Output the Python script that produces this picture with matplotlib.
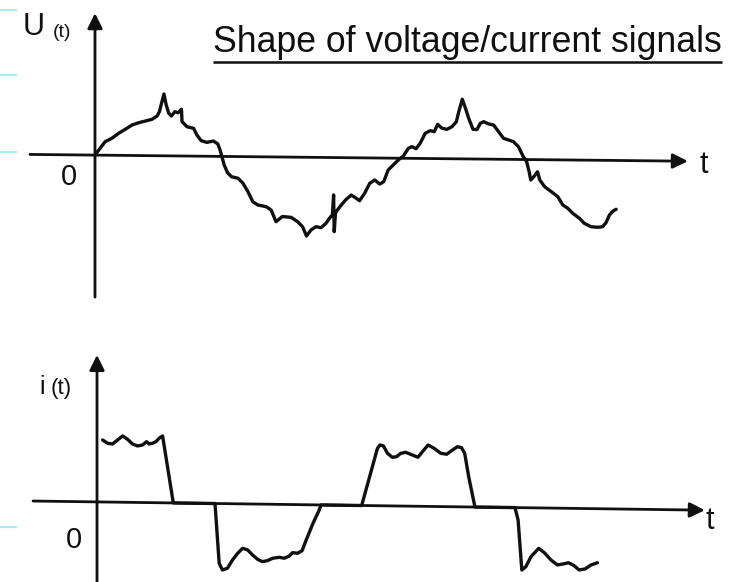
import numpy as np
import matplotlib
matplotlib.use("Agg")
import matplotlib.pyplot as plt
from matplotlib.transforms import Affine2D
from matplotlib import font_manager

# ---------------- data ----------------
# Voltage u(t): time offset from origin and value above the t axis (arbitrary units)
u_time = [0, 5, 10, 16.7, 23.3, 30, 36.7, 43.3, 50, 56.7, 61.7, 64, 66, 68.3, 70.7, 73.3,
          76, 79.3, 82.7, 86, 86.7, 91.7, 98.3, 101.7, 106, 111.7, 118.3, 122.7, 125, 126.7,
          129.3, 132.7, 136.7, 143.3, 148.3, 153.3, 158.3, 163.3, 171.7, 176.7, 181.7, 188,
          196.7, 203.3, 208.3, 212.3, 216.7, 221.7, 226.7, 231.7, 235, 238, 239, 240, 241,
          241.7, 246.7, 251.7, 256.7, 261.7, 265, 270, 275, 280, 285, 289, 293.3, 298.3,
          303.3, 308.3, 313.3, 316.7, 321, 325, 330, 335, 339, 342.3, 346.7, 351.7, 356.7,
          361, 363.3, 366.7, 370, 373.3, 377.7, 381.7, 385, 388.3, 393.3, 398.3, 403.3,
          408.3, 413.3, 418.3, 423.3, 428.3, 431.7, 434.3, 436, 439, 442.7, 445, 450, 456.7,
          463.3, 468.3, 473.3, 478.3, 485, 490, 496.7, 503.3, 508.3, 511.7, 515, 519, 521.7]
u_value = [0, 6.9, 13.5, 17.0, 22.0, 26.1, 30.5, 32.8, 34.6, 36.4, 39.7, 44.1, 52.5, 61.8,
           50.8, 42.6, 39.9, 44.2, 43.2, 46.7, 34.3, 29.3, 27.8, 21.1, 15.5, 13.9, 15.3, 12.4,
           6.4, 0.4, -8.6, -16.2, -20.2, -21.7, -26.7, -35.0, -45.0, -48.2, -49.8, -53.1,
           -64.7, -59.5, -60.2, -64.5, -69.5, -78.7, -72.7, -69.3, -70.3, -65.8, -60.8, -57.4,
           -37.4, -74.1, -56.4, -54.1, -47.4, -41.6, -37.3, -40.5, -42.9, -35.4, -25.4, -22.0,
           -26.0, -23.6, -11.9, -6.8, -1.8, 2.3, 10.0, 11.7, 9.7, 15.1, 25.2, 27.9, 26.9, 34.3,
           30.4, 29.4, 32.1, 37.1, 47.1, 59.6, 50.6, 40.6, 29.7, 29.5, 35.8, 37.4, 35.2, 34.2,
           27.6, 21.0, 19.4, 17.7, 12.8, 2.8, -2.2, -12.1, -20.4, -17.1, -12.1, -20.3, -27.0,
           -31.9, -36.9, -45.1, -48.3, -53.3, -58.2, -63.2, -66.5, -67.0, -66.4, -62.3, -54.6,
           -50.3, -48.8]

# Current i(t)
i_time = [4.7, 9.7, 14.7, 19.7, 24.7, 29.7, 34.7, 39.7, 44.7, 48.7, 51.3, 54.7, 58, 61.3,
          64.7, 76.3, 118, 123, 126.3, 131.3, 136.3, 141.3, 146.3, 151.3, 156.3, 161.3, 166.3,
          171.3, 176.3, 183, 188, 193, 196.3, 201.3, 205.7, 209.7, 216.3, 222.3, 224, 264.7,
          279.7, 282.3, 285.7, 289.7, 294.7, 299, 303, 308, 314.7, 320.3, 324.7, 330.3, 336.3,
          343, 349, 354.7, 359.7, 363.7, 367, 371.3, 378, 418, 421.3, 425.7, 429.7, 434.7,
          442.3, 448, 454.7, 461.3, 467, 472.3, 478, 483, 489, 494.7, 501.3]
i_value = [62.0, 58.8, 58.1, 62.2, 66.3, 63.0, 58.4, 56.5, 57.5, 60.9, 58.6, 59.4, 61.0, 64.5,
           66.8, 0, 0, -59.7, -66.4, -64.6, -56.2, -49.5, -44.4, -46.0, -51.0, -55.2, -57.5,
           -56.4, -54.0, -52.9, -53.8, -51.5, -48.1, -48.6, -46.0, -35.2, -18.4, -5.1, 0, 0,
           57.4, 60.8, 59.8, 52.6, 48.6, 49.3, 52.7, 53.8, 51.2, 49.0, 54.6, 61.4, 58.2, 53.3,
           52.4, 56.7, 60.1, 59.2, 53.6, 30.3, 0, 0, -12.4, -62.3, -58.9, -48.9, -40.4, -44.7,
           -51.9, -56.8, -55.7, -54.4, -57.3, -61.5, -60.4, -56.4, -54.0]

title_text = "Shape of voltage/current signals"
u_label, i_label, t_label, zero_label = "U", "i", "t", "0"
sub_label = "(t)"

# ---------------- layout / style ----------------
W, H = 731, 582
INK = "#101010"
fig = plt.figure(figsize=(W / 100, H / 100), dpi=100)
fig.patch.set_facecolor("white")

def pick_font():
    for fam in ["Liberation Sans Narrow", "Liberation Sans", "DejaVu Sans"]:
        try:
            font_manager.findfont(font_manager.FontProperties(family=fam), fallback_to_default=False)
            return fam
        except Exception:
            pass
    return "DejaVu Sans"
FONT = pick_font()


def panel(origin, tilt_deg):
    ax = fig.add_axes([0, 0, 1, 1])
    ax.set_xlim(-origin[0], W - origin[0])
    ax.set_ylim(-(H - origin[1]), origin[1])
    ax.axis("off")
    ax.patch.set_alpha(0)
    tr = Affine2D().rotate_deg(-tilt_deg) + ax.transData
    return ax, tr


def draw_axes(ax, tr, t_range, v_range):
    arrow = dict(arrowstyle="-|>,head_length=0.65,head_width=0.32", color=INK, lw=2.0,
                 mutation_scale=14, shrinkA=0, shrinkB=0)
    ax.annotate("", xy=(t_range[1], 0), xytext=(t_range[0], 0), xycoords=tr,
                textcoords=tr, arrowprops=arrow)
    ax.annotate("", xy=(0, v_range[1]), xytext=(0, v_range[0]), xycoords=ax.transData,
                textcoords=ax.transData, arrowprops=arrow)


# top panel: voltage
ax1, tr1 = panel((95, 155.1), 0.59)
draw_axes(ax1, tr1, (-65, 593), (-142, 142))
ax1.plot(u_time, u_value, color=INK, lw=2.4, solid_joinstyle="round",
         solid_capstyle="round", transform=tr1)

# bottom panel: current
ax2, tr2 = panel((97, 501.9), 0.78)
draw_axes(ax2, tr2, (-64, 608), (-90, 147))
ax2.plot(i_time, i_value, color=INK, lw=2.4, solid_joinstyle="round",
         solid_capstyle="round", transform=tr2)

# overlay for text in pixel space
ov = fig.add_axes([0, 0, 1, 1])
ov.set_xlim(0, W)
ov.set_ylim(H, 0)
ov.axis("off")
ov.patch.set_alpha(0)

kw = dict(family=FONT, color=INK, va="baseline", ha="left")
ov.text(23, 35, u_label, fontsize=22, **kw)
ov.text(53, 37, sub_label, fontsize=14, **kw)
ov.text(61, 185, zero_label, fontsize=21, **kw)
ov.text(699, 173, t_label, fontsize=22, **kw)

ov.text(39, 394, i_label, fontsize=18, **kw)
ov.text(51, 394, sub_label, fontsize=16, **kw)
ov.text(66, 548, zero_label, fontsize=21, **kw)
ov.text(706, 529, t_label, fontsize=22, **kw)

ttl = ov.text(213, 52, title_text, fontsize=24, **kw)
fig.canvas.draw()
bb = ttl.get_window_extent()
ttl.set_fontsize(24 * 509.0 / bb.width)
ov.plot([213, 722], [62, 62], color=INK, lw=1.8, solid_capstyle="butt")

# cyan scan marks on the left edge
for y in [10, 75, 152, 527]:
    ov.plot([0, 17], [y, y], color="#a6eef4", lw=1.6, solid_capstyle="butt")

fig.savefig("out.png", dpi=100, facecolor="white")
